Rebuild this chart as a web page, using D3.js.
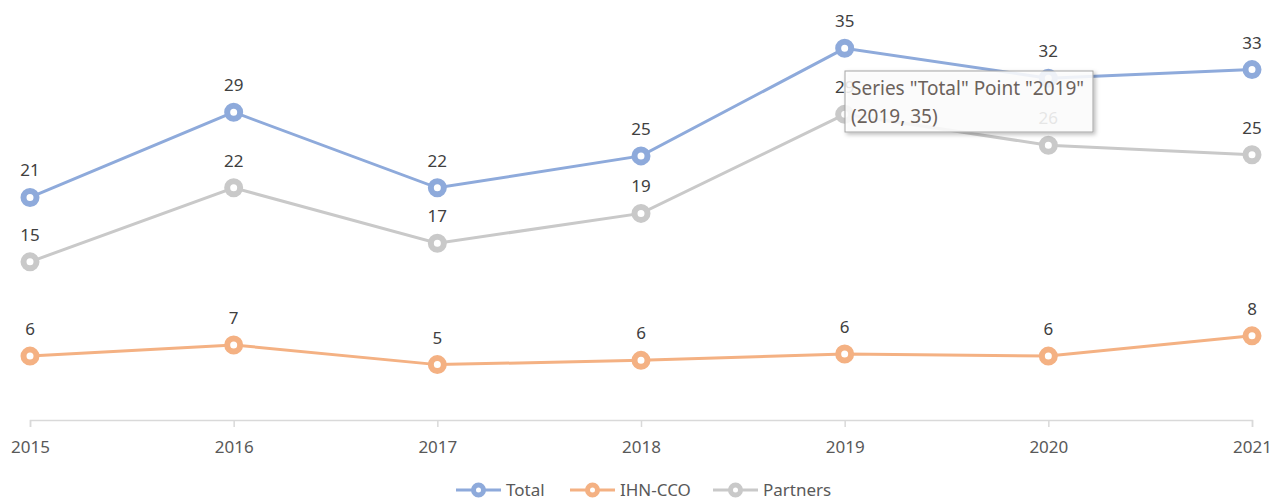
<!DOCTYPE html>
<html>
<head>
<meta charset="utf-8">
<script src="https://cdn.jsdelivr.net/npm/d3@7"></script>
<style>
  body { margin: 0; background: #fff; }
  text { font-family: 'Noto Sans', 'Open Sans', sans-serif; }
</style>
</head>
<body>
<script>
const years = ['2015', '2016', '2017', '2018', '2019', '2020', '2021'];
const total = [20.9, 28.9, 21.8, 24.8, 34.9, 32.1, 32.9];
const ihnCco = [6.0, 7.05, 5.2, 5.6, 6.2, 6.0, 7.9];
const partners = [14.85, 21.8, 16.6, 19.4, 28.7, 25.8, 24.9];
const seriesNames = ['Total', 'IHN-CCO', 'Partners'];
const seriesColors = ['#8eaadb', '#f4b183', '#c9c9c9'];

document.addEventListener('DOMContentLoaded', function () {
  const w = 1277;
  const h = 500;
  const series = [total, ihnCco, partners];

  const x = d3.scalePoint().domain(years).range([30, 1252]);
  const y = d3.scaleLinear().domain([0, 40]).range([420, -6]);

  const svg = d3
    .select('body')
    .append('svg')
    .attr('width', w)
    .attr('height', h);

  const defs = svg.append('defs');
  const f = defs.append('filter').attr('id', 'shadow').attr('x', '-10%').attr('y', '-10%').attr('width', '130%').attr('height', '140%');
  f.append('feDropShadow').attr('dx', 2).attr('dy', 2).attr('stdDeviation', 2).attr('flood-color', '#000').attr('flood-opacity', 0.3);

  // x axis
  const xAxis = svg
    .append('g')
    .attr('transform', `translate(0,420)`)
    .call(d3.axisBottom(x).tickSize(7).tickPadding(14));
  xAxis.select('.domain').attr('stroke', '#d9d9d9').attr('stroke-width', 1.5);
  xAxis.selectAll('.tick line').attr('stroke', '#d9d9d9').attr('stroke-width', 1.5);
  xAxis.selectAll('.tick text')
    .attr('fill', '#595959')
    .style('font-size', '17px')
    .style('font-family', "'Noto Sans', sans-serif");

  const line = d3
    .line()
    .x((d, i) => x(years[i]))
    .y((d) => y(d));

  // draw back to front: partners, ihn, total
  [2, 1, 0].forEach((s) => {
    const g = svg.append('g').attr('class', 'series');
    g.append('path')
      .attr('d', line(series[s]))
      .attr('fill', 'none')
      .attr('stroke', seriesColors[s])
      .attr('stroke-width', 3);
    g.selectAll('circle')
      .data(series[s])
      .enter()
      .append('circle')
      .attr('cx', (d, i) => x(years[i]))
      .attr('cy', (d) => y(d))
      .attr('r', 6.5)
      .attr('fill', '#fff')
      .attr('stroke', seriesColors[s])
      .attr('stroke-width', 6);
    g.selectAll('text')
      .data(series[s])
      .enter()
      .append('text')
      .attr('x', (d, i) => x(years[i]))
      .attr('y', (d) => y(d) - 21)
      .attr('text-anchor', 'middle')
      .attr('fill', '#404040')
      .style('font-size', '17px')
      .text((d) => d3.format('.0f')(d));
  });

  // legend
  const legendX = [456, 570, 713];
  const legend = svg
    .append('g')
    .selectAll('g')
    .data(seriesNames)
    .enter()
    .append('g')
    .attr('transform', (d, i) => `translate(${legendX[i]},490)`);
  legend.append('line')
    .attr('x1', 0).attr('x2', 45)
    .attr('stroke', (d, i) => seriesColors[i])
    .attr('stroke-width', 3);
  legend.append('circle')
    .attr('cx', 22.5)
    .attr('r', 5)
    .attr('fill', '#fff')
    .attr('stroke', (d, i) => seriesColors[i])
    .attr('stroke-width', 5);
  legend.append('text')
    .attr('x', 50)
    .attr('y', 6)
    .attr('fill', '#595959')
    .style('font-size', '17px')
    .text((d) => d);

  // hover tooltip as captured
  const tip = svg.append('g').attr('transform', 'translate(845,71)');
  tip.append('rect')
    .attr('width', 248)
    .attr('height', 61)
    .attr('fill', '#fff')
    .attr('fill-opacity', 0.85)
    .attr('stroke', '#a6a6a6')
    .attr('filter', 'url(#shadow)');
  tip.append('text')
    .attr('x', 6)
    .attr('y', 24)
    .attr('fill', '#6b625c')
    .style('font-size', '19px')
    .text('Series "Total" Point "2019"');
  tip.append('text')
    .attr('x', 6)
    .attr('y', 52)
    .attr('fill', '#6b625c')
    .style('font-size', '19px')
    .text('(2019, 35)');
});
</script>
</body>
</html>
